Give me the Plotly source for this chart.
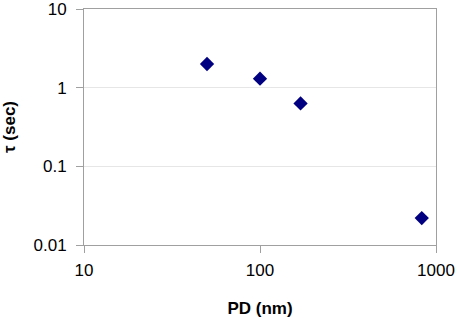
import plotly.graph_objects as go

pd_nm = [50, 100, 170, 830]
tau_sec = [2.0, 1.3, 0.63, 0.022]

x_ticks = [10, 100, 1000]
x_tick_labels = ["10", "100", "1000"]
y_ticks = [0.01, 0.1, 1, 10]
y_tick_labels = ["0.01", "0.1", "1", "10"]

FONT = "Liberation Sans, Arial, sans-serif"

fig = go.Figure(go.Scatter(
    x=pd_nm, y=tau_sec, mode="markers",
    marker=dict(symbol="diamond", size=11, color="#000080"),
    cliponaxis=False,
))

axis_common = dict(
    showline=True, linecolor="#a0a0a0", linewidth=1, mirror=True,
    ticks="outside", ticklen=7, tickcolor="#a0a0a0",
    tickfont=dict(family=FONT, size=17, color="#000"),
    zeroline=False, automargin=False, ticklabeloverflow="allow",
)

fig.update_layout(
    width=457, height=318,
    margin=dict(l=84, r=21, t=9, b=73),
    paper_bgcolor="white", plot_bgcolor="white",
    showlegend=False,
    xaxis=dict(type="log", range=[1, 3], tickvals=x_ticks, ticktext=x_tick_labels,
               showgrid=False, ticklabelstandoff=3,
               title=dict(text="<b>PD (nm)</b>", standoff=22,
                          font=dict(family=FONT, size=17, color="#000")),
               **axis_common),
    yaxis=dict(type="log", range=[-2, 1], tickvals=y_ticks, ticktext=y_tick_labels,
               showgrid=True, gridcolor="#e6e6e6", ticklabelstandoff=6,
               title=dict(text="<b>τ (sec)</b>", standoff=20,
                          font=dict(family=FONT, size=17, color="#000")),
               **axis_common),
)

fig.write_html("out.html", config={"displayModeBar": False},
               post_script="document.body.style.margin='0';document.body.style.overflow='hidden';")
